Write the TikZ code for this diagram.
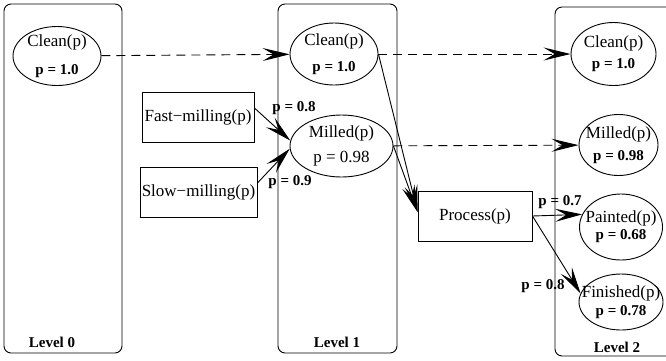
\documentclass[tikz,border=0pt]{standalone}
\usepackage{fontspec}
\setmainfont{Liberation Serif}
\usetikzlibrary{shapes.geometric,arrows.meta}
\newcommand{\pval}[1]{{\bfseries\fontsize{15}{17}\selectfont p = #1}}

\begin{document}
\begin{tikzpicture}[->,>={Stealth[length=27pt,width=13pt,inset=11pt]},line width=0.9pt,x=1pt,y=-1pt]
    \tikzstyle{every node}=[font=\fontsize{17}{17}\selectfont]
    \tikzstyle{state}=[ellipse,draw,inner xsep=-12pt,inner ysep=-6pt,align=center]
    \tikzstyle{action}=[rectangle,draw,minimum height=50pt,inner sep=0pt]
    \tikzstyle{level}=[draw,-,rounded corners=7pt]
    \tikzstyle{annot}=[font=\bfseries\fontsize{15}{15}\selectfont,inner sep=0pt]
    \tikzstyle{carry}=[dash pattern=on 9pt off 6pt]

    \useasboundingbox (0,0) rectangle (666,360);

    % Draw the levels
    \draw[level] (4,4) rectangle (122,353);
    \draw[level] (278,4) rectangle (397,353);
    \draw[level] (555,7) rectangle (680,356);
    \node[annot] (lev-0) at (52,342) {Level 0};
    \node[annot] (lev-1) at (337,342) {Level 1};
    \node[annot] (lev-2) at (617,347) {Level 2};

    % Level 0
    \node[state,minimum width=88pt,minimum height=59pt] (C-0) at (57,56) {Clean(p)\\[11pt]\pval{1.0}};

    % Level 1 and the actions
    \node[action,minimum width=112pt] (A-f) at (198,117) {Fast−milling(p)};
    \node[action,minimum width=117pt] (A-s) at (198.5,192) {Slow−milling(p)};
    \node[state,minimum width=88pt,minimum height=62pt] (C-1) at (334,54) {Clean(p)\\[9pt]\pval{1.0}};
    \node[state,minimum width=103pt,minimum height=62pt] (M-1) at (341.5,146) {Milled(p)\\[8pt]p = 0.98};
    \node[action,minimum width=114pt] (A-p) at (475,216) {Process(p)};

    % Level 2
    \node[state,minimum width=85pt,minimum height=63pt] (C-2) at (613.5,54) {Clean(p)\\[4pt]\pval{1.0}};
    \node[state,minimum width=79pt,minimum height=61pt] (M-2) at (618.5,145) {Milled(p)\\[5pt]\pval{0.98}};
    \node[state,minimum width=83pt,minimum height=66pt] (P-2) at (621,227) {Painted(p)\\[0pt]\pval{0.68}};
    \node[state,minimum width=84pt,minimum height=56pt] (F-2) at (621,302) {Finished(p)\\[1pt]\pval{0.78}};

    % Carried over facts
    \path (C-0) edge[carry] (C-1);
    \path (C-1) edge[carry] (C-2);
    \path (M-1) edge[carry] (M-2);

    % Action effects
    \path ([yshift=9pt]A-f.east) edge (M-1.174);
    \path ([yshift=9pt]A-s.east) edge (M-1.183);
    \path (C-1.east) edge ([yshift=4pt]A-p.west);
    \path (M-1.east) edge ([yshift=4pt]A-p.west);
    \path (A-p.east) edge (P-2.162);
    \path (A-p.east) edge (F-2.168);

    % Annotate the probabilities
    \node[annot] (p-f) at (294,108) {p = 0.8};
    \node[annot] (p-s) at (290,182) {p = 0.9};
    \node[annot] (p-p) at (560,202) {p = 0.7};
    \node[annot] (p-d) at (543,286) {p = 0.8};
\end{tikzpicture}
\end{document}
